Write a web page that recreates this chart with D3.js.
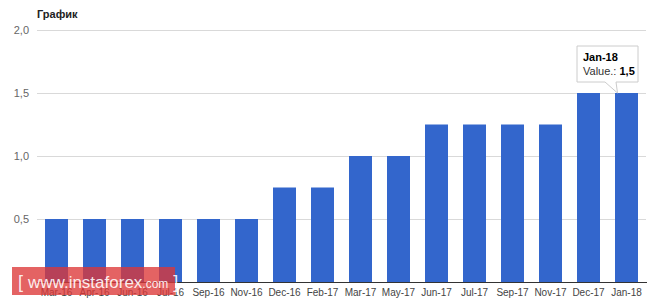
<!DOCTYPE html>
<html><head><meta charset="utf-8">
<script src="https://cdn.jsdelivr.net/npm/d3@7"></script>
<style>body{margin:0;background:#fff}svg{display:block;font-family:Arial,"Liberation Sans",sans-serif}</style>
</head><body><svg id="c" width="664" height="304"></svg>
<script>
const categories = ["Mar-16","Apr-16","Jun-16","Jul-16","Sep-16","Nov-16","Dec-16","Feb-17","Mar-17","May-17","Jun-17","Jul-17","Sep-17","Nov-17","Dec-17","Jan-18"];
const values = [0.5,0.5,0.5,0.5,0.5,0.5,0.75,0.75,1.0,1.0,1.25,1.25,1.25,1.25,1.5,1.5];
const yTicks = [0.5,1.0,1.5,2.0];
const title = "График";

const svg = d3.select("#c");
const x = d3.scaleBand().domain(categories).range([37.5,645.5]).paddingInner(0.395).paddingOuter(0.1975);
const y = d3.scaleLinear().domain([0,2]).range([282,30]);
const fmt = d => d3.format(".1f")(d).replace(".", ",");

svg.append("text").attr("x",37).attr("y",18).attr("font-size",11).attr("font-weight","bold").attr("fill","#222").text(title);

const yAxis = svg.append("g").attr("transform","translate(37,0)")
  .call(d3.axisLeft(y).tickValues(yTicks).tickSize(-609).tickFormat(fmt));
yAxis.select(".domain").remove();
yAxis.selectAll(".tick line").attr("stroke","#d9d9d9");
yAxis.selectAll(".tick text").attr("fill","#666").attr("font-size",11).attr("x",-8);

svg.append("g").selectAll("rect").data(values).join("rect")
  .attr("x",(d,i)=>x(categories[i])).attr("width",x.bandwidth())
  .attr("y",d=>y(d)).attr("height",d=>y(0)-y(d)).attr("fill","#3366cc");

const xAxis = svg.append("g").attr("transform","translate(0,282)")
  .call(d3.axisBottom(x).tickSize(0).tickPadding(7));
xAxis.select(".domain").attr("stroke","#333").attr("d","M37,0.5H647");
xAxis.selectAll(".tick text").attr("fill","#444").attr("font-size",10);

// tooltip
const last = categories.length-1;
const tipX = x(categories[last]) + x.bandwidth()/2 - 9, tipY = y(values[last]);
const bx = 577, by = 46, bw = 61, bh = 36;
svg.append("path").attr("d",`M${bx},${by}H${bx+bw}V${by+bh}H${bx+39}L${tipX},${tipY}L${bx+28},${by+bh}H${bx}Z`)
  .attr("fill","#fff").attr("stroke","#ccc").attr("stroke-width",1);
svg.append("text").attr("x",bx+6).attr("y",by+15).attr("font-size",11).attr("font-weight","bold").attr("fill","#000").text(categories[last]);
const t2 = svg.append("text").attr("x",bx+6).attr("y",by+29).attr("font-size",11).attr("fill","#333");
t2.append("tspan").text("Value.: ");
t2.append("tspan").attr("font-weight","bold").attr("fill","#000").text(fmt(values[last]));

// watermark
svg.append("rect").attr("x",12).attr("y",267).attr("width",163).attr("height",28).attr("fill","rgba(220,55,55,0.78)");
const wm = svg.append("text").attr("x",18).attr("y",288).attr("fill","#fff").attr("fill-opacity",0.9);
wm.append("tspan").attr("font-size",18).text("[ ");
wm.append("tspan").attr("font-size",17).text("www.instaforex");
wm.append("tspan").attr("font-size",12).text(".com");
wm.append("tspan").attr("font-size",18).text(" ]");
</script></body></html>
